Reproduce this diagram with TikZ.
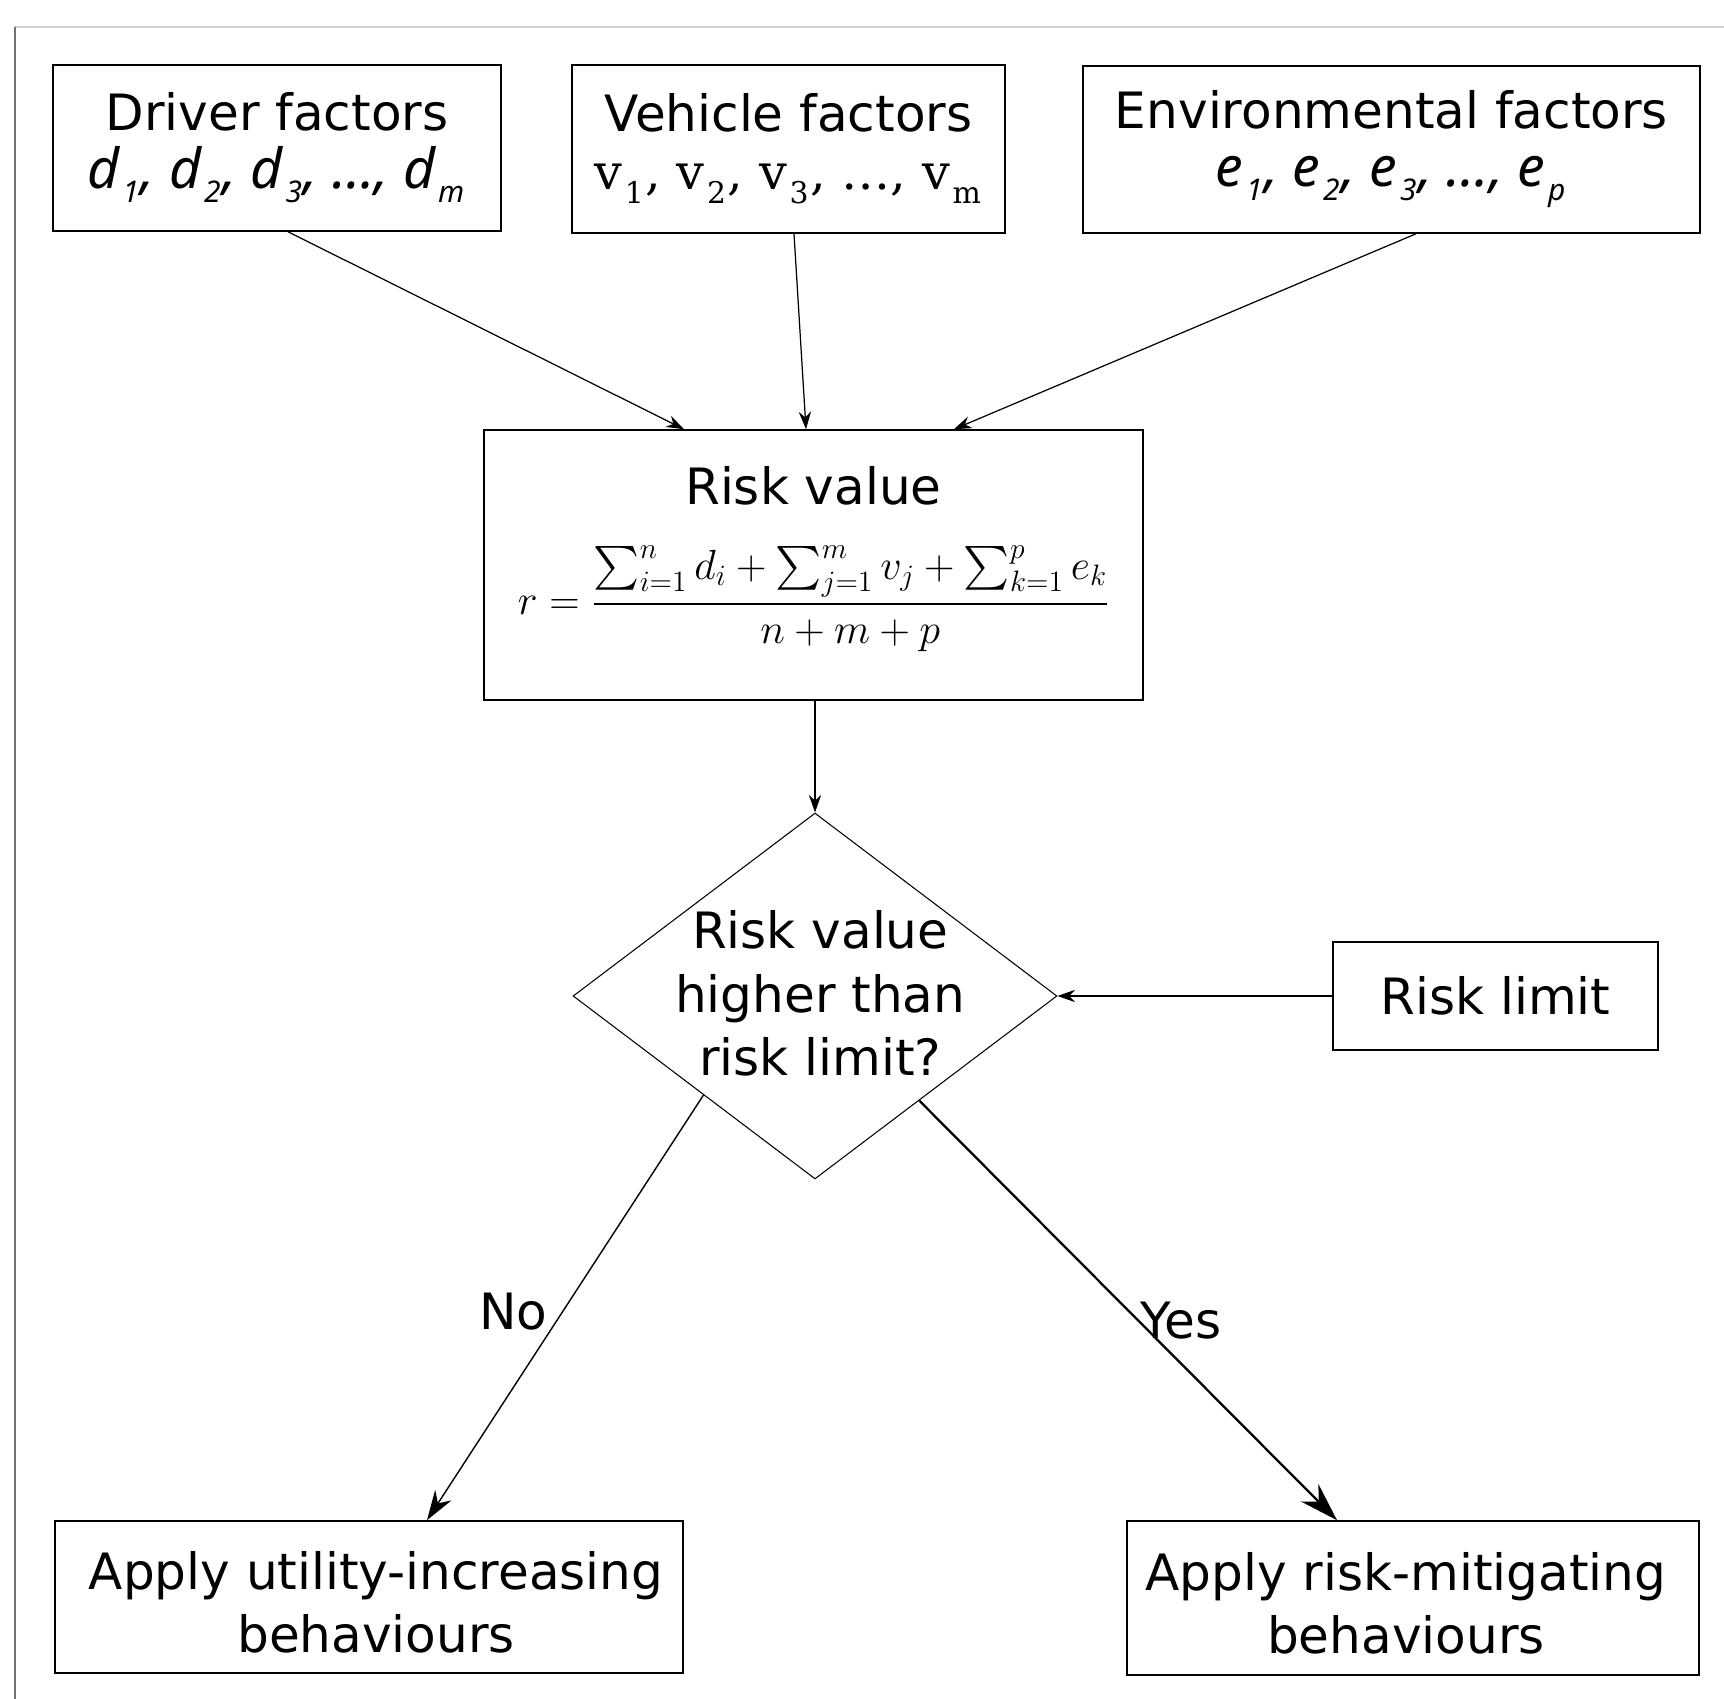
\RequirePackage{fix-cm}
\documentclass[tikz,border=0pt]{standalone}
\usepackage{amsmath}
\usepackage{fontspec}
\setmainfont{DejaVu Sans}
\newfontfamily\vehfont{DejaVu Serif}
\newfontfamily\facfont{Noto Sans}
\usetikzlibrary{
    arrows.meta,
    shapes.geometric,
    positioning,
    calc
}

\newcommand\sub[1]{\kern1.5pt\raisebox{-8pt}{\fontsize{17}{17}\selectfont #1}\kern1pt}

\tikzset{
    every node/.style={font=\fontsize{28.5}{36}\selectfont},
    factorbox/.style={draw, line width=0.9pt, align=center, inner sep=0pt},
    decision/.style={draw, diamond, line width=0.6pt, inner sep=0pt,
        minimum width=9.68cm, minimum height=7.32cm},
    link/.style={-{Stealth[length=10pt,width=7pt]}, line width=0.7pt}
}

\begin{document}
\begin{tikzpicture}[x=0.02cm, y=-0.02cm]
                \useasboundingbox (0,0) rectangle (1724,1699);
                \draw[black!18, line width=0.8pt] (15,27) -- (1724,27);
                \draw[black!55, line width=0.8pt] (15,27) -- (15,1699);

                % factors
                \node[factorbox, minimum width=8.96cm, minimum height=3.32cm] (driver) at (277,148)
                    {Driver factors\\[-3pt]{\facfont\itshape\fontsize{31.5}{36}\selectfont d\sub{1}, d\sub{2}, d\sub{3}, …, d\sub{m}}};
                \node[factorbox, minimum width=8.66cm, minimum height=3.36cm] (vehicle) at (788.5,149)
                    {Vehicle factors\\[-3pt]{\vehfont\fontsize{28}{36}\selectfont v\sub{1}, v\sub{2}, v\sub{3}, …, v\sub{m}}};
                \node[factorbox, minimum width=12.34cm, minimum height=3.34cm] (environment) at (1391.5,149.5)
                    {Environmental factors\\[-3pt]{\facfont\itshape\fontsize{31.5}{36}\selectfont e\sub{1}, e\sub{2}, e\sub{3}, …, e\sub{p}}};

                % risk value
                \node[factorbox, minimum width=13.18cm, minimum height=5.4cm,
                    label={[align=center, yshift=3.5pt]center:{Risk value\\[22pt]{\fontsize{24}{30}\selectfont$\displaystyle r = \frac{\sum_{i=1}^{n} d_i + \sum_{j=1}^{m} v_j + \sum_{k=1}^{p} e_k}{n+m+p}$}}}] (risk) at (813.5,565) {};

                \node[decision, label={[align=center, xshift=3pt, yshift=1.5pt]center:Risk value\\higher than\\risk limit?}] (check) at (815,996) {};
                \node[factorbox, minimum width=6.5cm, minimum height=2.16cm] (limit) at (1495.5,996) {Risk limit};

                % behaviours
                \node[factorbox, minimum width=12.56cm, minimum height=3.04cm,
                    label={[align=center, xshift=4pt, yshift=-3pt]center:Apply utility-increasing\\behaviours}] (utility) at (369,1597) {};
                \node[factorbox, minimum width=11.44cm, minimum height=3.08cm,
                    label={[align=center, xshift=-4pt, yshift=-3pt]center:Apply risk-mitigating\\behaviours}] (mitigate) at (1413,1598) {};

                \draw[link] ([xshift=0.22cm]driver.south) -- ([xshift=-2.59cm]risk.north);
                \draw[link] ([xshift=0.11cm]vehicle.south) -- ([xshift=-0.15cm]risk.north);
                \draw[link] ([xshift=0.49cm]environment.south) -- ([xshift=2.81cm]risk.north);
                \draw[link] (risk.south -| check.north) -- (check.north);
                \draw[link] (limit.west) -- (check.east);
                \draw[-{Stealth[length=17pt,width=11pt]}, line width=0.8pt] ($(check.west)!0.54!(check.south)$)
                    -- node[pos=0.51, left, xshift=-5pt] {No} ([xshift=1.16cm]utility.north);
                \draw[-{Stealth[length=22pt,width=14pt]}, line width=1.3pt] ($(check.east)!0.57!(check.south)$)
                    -- node[pos=0.525, right, xshift=-3pt] {Yes} ([xshift=-1.52cm]mitigate.north);
\end{tikzpicture}
\end{document}
